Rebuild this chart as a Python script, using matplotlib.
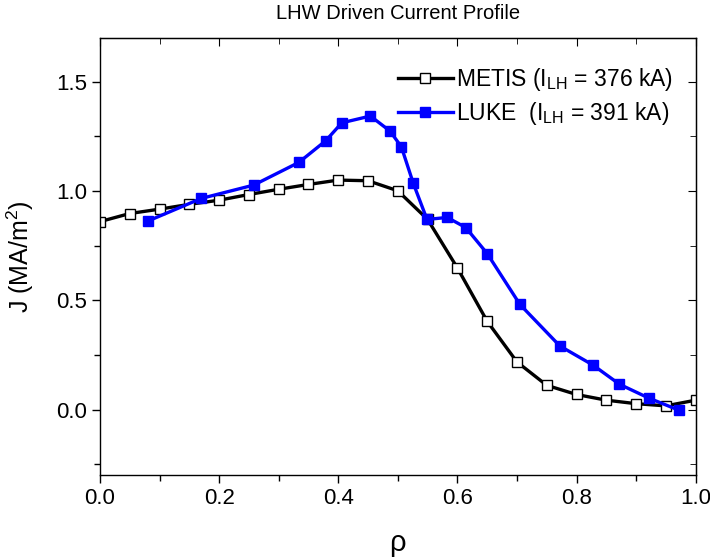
import matplotlib
matplotlib.use('Agg')
import matplotlib.pyplot as plt
from matplotlib.ticker import MultipleLocator

plt.rcParams['font.family'] = ['Liberation Sans', 'DejaVu Sans']
plt.rcParams['mathtext.fontset'] = 'custom'
plt.rcParams['mathtext.rm'] = 'Liberation Sans'
plt.rcParams['mathtext.it'] = 'Liberation Sans:italic'

# METIS profile
rho_metis = [0.0, 0.05, 0.1, 0.15, 0.2, 0.25, 0.3, 0.35, 0.4, 0.45, 0.5,
             0.55, 0.6, 0.65, 0.7, 0.75, 0.8, 0.85, 0.9, 0.95, 1.0]
j_metis = [0.86, 0.897, 0.917, 0.939, 0.958, 0.984, 1.008, 1.03, 1.05, 1.047, 1.001,
           0.87, 0.648, 0.404, 0.218, 0.111, 0.069, 0.043, 0.027, 0.017, 0.043]

# LUKE profile
rho_luke = [0.08, 0.17, 0.258, 0.334, 0.379, 0.406, 0.454, 0.487, 0.506, 0.526,
            0.549, 0.583, 0.614, 0.65, 0.705, 0.772, 0.828, 0.872, 0.921, 0.972]
j_luke = [0.862, 0.966, 1.027, 1.131, 1.23, 1.312, 1.343, 1.274, 1.202, 1.035,
          0.87, 0.879, 0.833, 0.714, 0.481, 0.291, 0.203, 0.116, 0.053, -0.003]

lab_metis = 'METIS (I$_{\\rm LH}$ = 376 kA)'
lab_luke = 'LUKE  (I$_{\\rm LH}$ = 391 kA)'

fig = plt.figure(figsize=(7.1, 5.59), dpi=100)
ax = fig.add_axes([0.1408, 0.150, 0.839, 0.782])

ax.plot(rho_metis, j_metis, color='black', linewidth=2.4, marker='s', markersize=7.5,
        markerfacecolor='white', markeredgecolor='black', markeredgewidth=1.0, label=lab_metis)
ax.plot(rho_luke, j_luke, color='#0000ff', linewidth=2.4, marker='s', markersize=7.5,
        markerfacecolor='#0000ff', markeredgecolor='#0000ff', label=lab_luke)

ax.set_xlim(0, 1.0)
ax.set_ylim(-0.3, 1.7)
ax.xaxis.set_major_locator(MultipleLocator(0.2))
ax.xaxis.set_minor_locator(MultipleLocator(0.1))
ax.yaxis.set_major_locator(MultipleLocator(0.5))
ax.yaxis.set_minor_locator(MultipleLocator(0.25))
ax.xaxis.set_major_formatter(matplotlib.ticker.FormatStrFormatter('%.1f'))
ax.yaxis.set_major_formatter(matplotlib.ticker.FormatStrFormatter('%.1f'))

ax.tick_params(which='both', direction='out', top=False, right=False, labelsize=16, width=1.0)
ax.tick_params(which='major', length=6)
ax.tick_params(which='minor', length=4)
# ticks hacia adentro arriba y a la derecha
ax2 = ax.secondary_xaxis('top')
ax2.xaxis.set_major_locator(MultipleLocator(0.2))
ax2.xaxis.set_minor_locator(MultipleLocator(0.1))
ax2.tick_params(which='both', direction='in', labeltop=False)
ax2.tick_params(which='major', length=6)
ax2.tick_params(which='minor', length=4)
ax3 = ax.secondary_yaxis('right')
ax3.yaxis.set_major_locator(MultipleLocator(0.5))
ax3.yaxis.set_minor_locator(MultipleLocator(0.25))
ax3.tick_params(which='both', direction='in', labelright=False)
ax3.tick_params(which='major', length=6)
ax3.tick_params(which='minor', length=4)

for s in ax.spines.values():
    s.set_linewidth(1.0)

ax.set_title('LHW Driven Current Profile', fontsize=14.5, pad=14)
ax.set_xlabel('ρ', fontsize=21, labelpad=14)
ax.set_ylabel('J (MA/m$^2$)', fontsize=18, labelpad=14)

ax.legend(loc='upper right', bbox_to_anchor=(0.985, 0.968), frameon=False, fontsize=16.5,
          handlelength=2.4, handletextpad=0.15, labelspacing=0.3, borderaxespad=0.2)

fig.savefig('out.png', dpi=100)
